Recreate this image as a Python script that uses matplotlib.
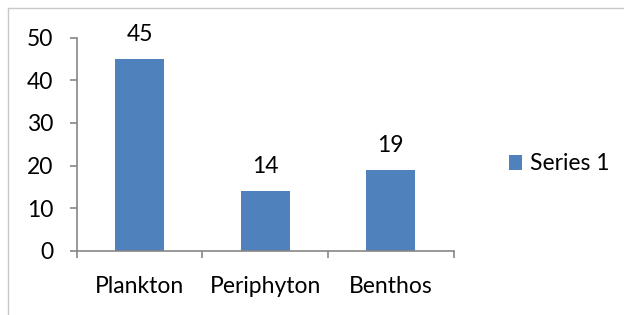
import matplotlib.pyplot as plt
from matplotlib.lines import Line2D

categories = ['Plankton', 'Periphyton', 'Benthos']
series_1 = [45, 14, 19]
y_ticks = [0, 10, 20, 30, 40, 50]

plt.rcParams['font.family'] = ['Lato', 'DejaVu Sans']
fs = 16.5

W, H = 624, 315
fig = plt.figure(figsize=(W / 100, H / 100), dpi=100)
ax = fig.add_axes([76.7 / W, 1 - 250.7 / H, (453.5 - 76.7) / W, (250.7 - 37.7) / H])

axis_col = '#868686'
bar_col = '#4F81BD'

x = range(len(categories))
bars = ax.bar(x, series_1, width=0.39, color=bar_col, label='Series 1')
for b, v in zip(bars, series_1):
    ax.annotate(str(v), (b.get_x() + b.get_width() / 2, v), xytext=(0, 10),
                textcoords='offset points', ha='center', va='bottom', fontsize=fs)

ax.set_xlim(-0.5, len(categories) - 0.5)
ax.set_ylim(0, 50)
ax.set_yticks(y_ticks)
ax.set_xticks(x)
ax.set_xticklabels(categories)
ax.set_xticks([i - 0.5 for i in range(len(categories) + 1)], minor=True)
ax.tick_params(axis='x', which='major', length=0, pad=18, labelsize=fs)
ax.tick_params(axis='x', which='minor', length=5, width=1.2, color=axis_col, direction='out')
ax.tick_params(axis='y', length=5, width=1.2, color=axis_col, pad=12, labelsize=fs)

for s in ['top', 'right']:
    ax.spines[s].set_visible(False)
for s in ['left', 'bottom']:
    ax.spines[s].set_color(axis_col)
    ax.spines[s].set_linewidth(1.2)

ax.legend(loc='center left', bbox_to_anchor=(488 / W, 1 - 164 / H), bbox_transform=fig.transFigure,
          frameon=False, fontsize=fs, handlelength=0.6, handleheight=0.6, handletextpad=0.35)

# chart border
fig.add_artist(Line2D([7.5 / W, 7.5 / W], [0, 1 - 8 / H], transform=fig.transFigure, color='#c8c8c8', lw=1))
fig.add_artist(Line2D([7.5 / W, 1], [1 - 8 / H, 1 - 8 / H], transform=fig.transFigure, color='#c8c8c8', lw=1))

fig.savefig('out.png', dpi=100)
